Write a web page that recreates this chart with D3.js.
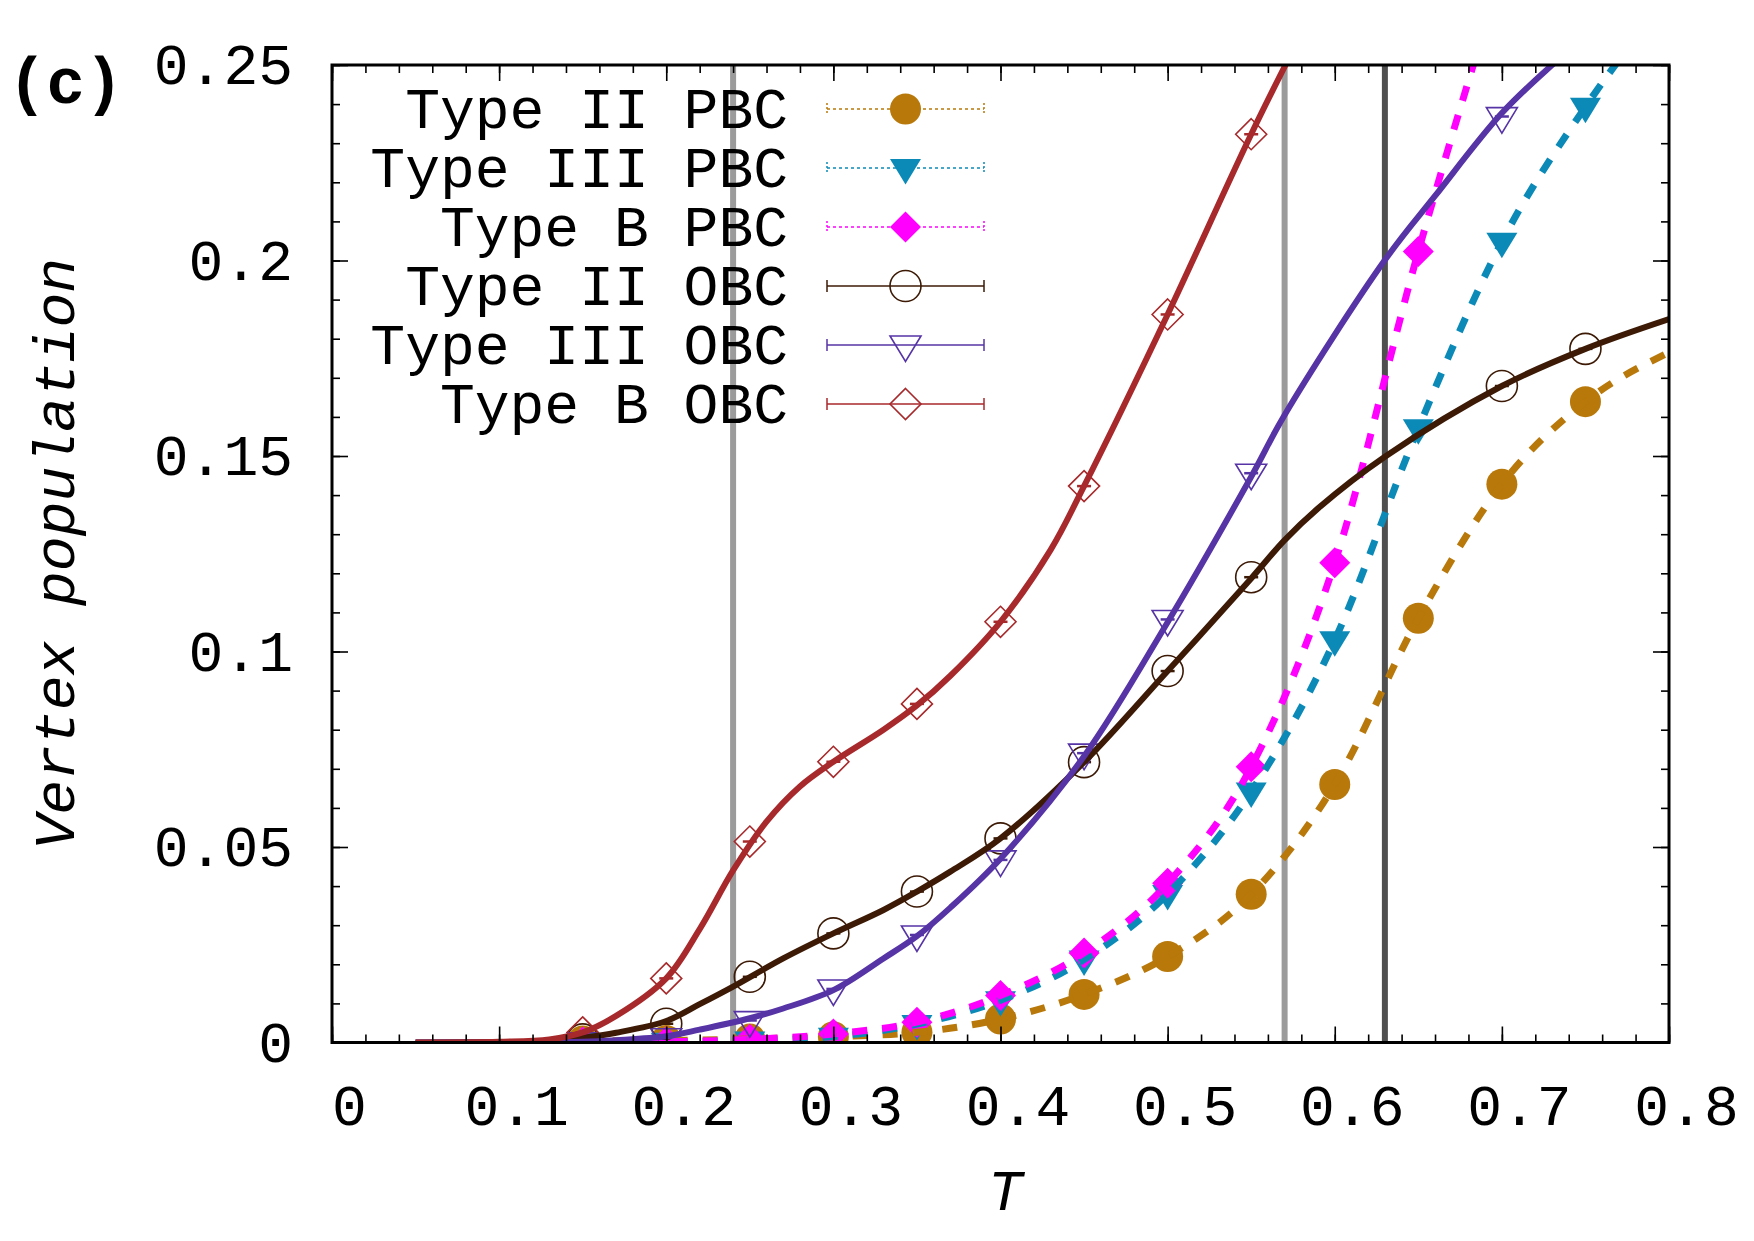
<!DOCTYPE html>
<html>
<head>
<meta charset="utf-8">
<script src="https://cdn.jsdelivr.net/npm/d3@7"></script>
<style>
    html, body { margin: 0; padding: 0; background: #fff; }
    svg { display: block; font-family: 'Liberation Mono', 'DejaVu Sans Mono', monospace; }
</style>
</head>
<body>
<svg id="chart" width="1754" height="1241"></svg>
<script>
// Temperatures of the simulation points
const temps = [0.15, 0.2, 0.25, 0.3, 0.35, 0.4, 0.45, 0.5, 0.55, 0.6, 0.65, 0.7, 0.75];

// Vertex populations (null = point not shown)
const typeIIPBC  = [0.0004, 0.0005, 0.0009, 0.0015, 0.0026, 0.006, 0.0123, 0.022, 0.0379, 0.066, 0.1085, 0.1428, 0.1639];
const typeIIIPBC = [0.0001, 0.0002, 0.0005, 0.0015, 0.0047, 0.0108, 0.0212, 0.038, 0.0642, 0.1029, 0.1571, 0.2048, 0.2393];
const typeBPBC   = [0.0001, 0.0002, 0.0008, 0.0022, 0.0052, 0.012, 0.0229, 0.0407, 0.0705, 0.1227, 0.2023, null, null];
const typeIIOBC  = [0.0008, 0.0048, 0.0168, 0.0279, 0.0386, 0.0522, 0.0717, 0.095, 0.119, null, null, 0.1679, 0.1774];
const typeIIIOBC = [0.0002, 0.0012, 0.0056, 0.0137, 0.0275, 0.0467, 0.074, 0.1082, 0.1456, null, null, 0.2368, null];
const typeBOBC   = [0.0026, 0.0164, 0.0514, 0.0718, 0.0866, 0.1076, 0.1423, 0.1862, 0.2323, null, null, null, null];

// Dashed PBC curves run through the points and on to these end points
const tailIIPBC  = [0.8, 0.1765];
const tailIIIPBC = [0.78, 0.257];
const tailBPBC   = [0.69, 0.26];

// Smooth OBC curves (T, value)
const curveTII  = [0.05, 0.1, 0.13, 0.15, 0.17, 0.2, 0.22, 0.24, 0.27, 0.3, 0.33, 0.35, 0.37, 0.4, 0.45, 0.5, 0.55, 0.57, 0.59, 0.63, 0.7, 0.75, 0.8];
const curveII   = [0, 0.0001, 0.0003, 0.0012, 0.0025, 0.0055, 0.0098, 0.0143, 0.0215, 0.0279, 0.0339, 0.0386, 0.0437, 0.0522, 0.0717, 0.095, 0.1187, 0.1285, 0.1366, 0.1498, 0.1679, 0.1774, 0.185];
const curveTIII = [0.05, 0.1, 0.15, 0.17, 0.2, 0.22, 0.25, 0.27, 0.3, 0.33, 0.35, 0.37, 0.4, 0.45, 0.5, 0.55, 0.57, 0.63, 0.66, 0.7, 0.73, 0.76];
const curveIII  = [0, 0, 0.0002, 0.0006, 0.0016, 0.0033, 0.0062, 0.0087, 0.0134, 0.0215, 0.0272, 0.0345, 0.047, 0.0732, 0.1075, 0.1447, 0.1605, 0.2001, 0.2165, 0.2377, 0.25, 0.261];
const curveTB   = [0.05, 0.1, 0.13, 0.15, 0.17, 0.2, 0.22, 0.24, 0.26, 0.28, 0.3, 0.33, 0.35, 0.37, 0.4, 0.43, 0.45, 0.5, 0.55, 0.58];
const curveB    = [0, 0.0002, 0.0008, 0.0026, 0.0068, 0.0164, 0.029, 0.0440, 0.0565, 0.0655, 0.0718, 0.0800, 0.0862, 0.0938, 0.1076, 0.126, 0.1423, 0.1862, 0.2323, 0.258];

// Vertical reference lines
const vLines = [0.24, 0.57, 0.63];

// Axis ticks and labels
const xTicks = [0, 0.1, 0.2, 0.3, 0.4, 0.5, 0.6, 0.7, 0.8];
const xTickLabels = ['0', '0.1', '0.2', '0.3', '0.4', '0.5', '0.6', '0.7', '0.8'];
const yTicks = [0, 0.05, 0.1, 0.15, 0.2, 0.25];
const yTickLabels = ['0', '0.05', '0.1', '0.15', '0.2', '0.25'];

const legendNames = ['Type II PBC', 'Type III PBC', 'Type B PBC', 'Type II OBC', 'Type III OBC', 'Type B OBC'];

const margin = {top: 65, right: 85, bottom: 198.5, left: 332};
const width = 1754 - margin.left - margin.right;
const height = 1241 - margin.top - margin.bottom;

const svg = d3.select('#chart');
const g = svg.append('g')
    .attr('transform', `translate(${margin.left},${margin.top})`);

const x = d3.scaleLinear().domain([0, 0.8]).range([0, width]);
const y = d3.scaleLinear().domain([0, 0.25]).range([height, 0]);

g.append('clipPath').attr('id', 'plot-clip')
    .append('rect').attr('width', width).attr('height', height);

// Series table built from the arrays above
const series = [
    {name: legendNames[0], vals: typeIIPBC,  tail: tailIIPBC,  color: '#b8780a', marker: 'circle',   filled: true},
    {name: legendNames[1], vals: typeIIIPBC, tail: tailIIIPBC, color: '#0b8ab8', marker: 'triangle', filled: true},
    {name: legendNames[2], vals: typeBPBC,   tail: tailBPBC,   color: '#ff00ff', marker: 'diamond',  filled: true},
    {name: legendNames[3], vals: typeIIOBC,  curveT: curveTII,  curve: curveII,  color: '#3c1a06', marker: 'circle',   filled: false},
    {name: legendNames[4], vals: typeIIIOBC, curveT: curveTIII, curve: curveIII, color: '#5634a6', marker: 'triangle', filled: false},
    {name: legendNames[5], vals: typeBOBC,   curveT: curveTB,   curve: curveB,   color: '#a8292b', marker: 'diamond',  filled: false}
];

function markerPath(type, cx, cy) {
    const p = d3.path();
    if (type === 'circle') {
        p.moveTo(cx + 15.5, cy);
        p.arc(cx, cy, 15.5, 0, 2 * Math.PI);
    } else if (type === 'triangle') {
        p.moveTo(cx - 15.5, cy - 9);
        p.lineTo(cx + 15.5, cy - 9);
        p.lineTo(cx, cy + 16.5);
        p.closePath();
    } else {
        p.moveTo(cx, cy - 15.5);
        p.lineTo(cx + 15.5, cy);
        p.lineTo(cx, cy + 15.5);
        p.lineTo(cx - 15.5, cy);
        p.closePath();
    }
    return p.toString();
}

// Vertical lines
g.selectAll('.vline')
    .data(vLines)
    .enter()
    .append('line')
    .attr('class', 'vline')
    .attr('x1', d => x(d))
    .attr('x2', d => x(d))
    .attr('y1', 0)
    .attr('y2', height)
    .attr('stroke', (d, i) => i === 2 ? '#4f4f4f' : '#9b9b9b')
    .attr('stroke-width', 6);

// Markers
const markLayer = g.append('g').attr('clip-path', 'url(#plot-clip)');
series.forEach(s => {
    const pts = temps.map((t, i) => ({t, v: s.vals[i]})).filter(d => d.v !== null);
    markLayer.selectAll(null)
        .data(pts)
        .enter()
        .append('path')
        .attr('d', d => markerPath(s.marker, x(d.t), y(d.v)))
        .attr('fill', s.filled ? s.color : 'none')
        .attr('stroke', s.color)
        .attr('stroke-width', s.filled ? 0 : 1.6);
    if (!s.filled) {
        // tiny error bar caps
        markLayer.selectAll(null)
            .data(pts)
            .enter()
            .append('line')
            .attr('x1', d => x(d.t) - 7)
            .attr('x2', d => x(d.t) + 7)
            .attr('y1', d => y(d.v))
            .attr('y2', d => y(d.v))
            .attr('stroke', s.color)
            .attr('stroke-width', 2.5);
    }
});

// Curves
const dashedLine = d3.line()
    .x(d => x(d[0]))
    .y(d => y(d[1]))
    .curve(d3.curveMonotoneX);
const smoothLine = d3.line()
    .x(d => x(d[0]))
    .y(d => y(d[1]))
    .curve(d3.curveCatmullRom.alpha(0.5));

const curveLayer = g.append('g').attr('clip-path', 'url(#plot-clip)');
series.slice(0, 3).forEach(s => {
    const pts = temps.map((t, i) => [t, s.vals[i]]).filter(d => d[1] !== null);
    pts.push(s.tail);
    curveLayer.append('path')
        .attr('d', dashedLine(pts))
        .attr('fill', 'none')
        .attr('stroke', s.color)
        .attr('stroke-width', 7)
        .attr('stroke-dasharray', '15,15');
});
series.slice(3).forEach(s => {
    const pts = s.curveT.map((t, i) => [t, s.curve[i]]);
    curveLayer.append('path')
        .attr('d', smoothLine(pts))
        .attr('fill', 'none')
        .attr('stroke', s.color)
        .attr('stroke-width', 6);
});

// Axes: major ticks with labels, minor ticks, mirrored on top/right
const xMinor = d3.range(0, 41).map(i => i * 0.02);
const yMinor = d3.range(0, 26).map(i => i * 0.01);

function styleAxis(sel) {
    sel.attr('font-size', null).attr('font-family', null);
    sel.select('.domain').remove();
    sel.selectAll('.tick line').attr('stroke', '#000').attr('stroke-width', 1.6);
    sel.selectAll('.tick text').attr('fill', '#000').style('font-size', '58px');
}

g.append('g')
    .attr('transform', `translate(0,${height})`)
    .call(d3.axisBottom(x).tickValues(xMinor).tickFormat('').tickSize(-8))
    .call(styleAxis);
g.append('g')
    .attr('transform', `translate(0,${height})`)
    .call(d3.axisBottom(x).tickValues(xTicks).tickFormat((d, i) => xTickLabels[i]).tickSize(-16).tickPadding(41))
    .call(styleAxis)
    .selectAll('.tick text').attr('dx', 17);
g.append('g')
    .call(d3.axisTop(x).tickValues(xMinor).tickFormat('').tickSize(-8))
    .call(styleAxis);
g.append('g')
    .call(d3.axisTop(x).tickValues(xTicks).tickFormat('').tickSize(-16))
    .call(styleAxis);

g.append('g')
    .call(d3.axisLeft(y).tickValues(yMinor).tickFormat('').tickSize(-8))
    .call(styleAxis);
g.append('g')
    .call(d3.axisLeft(y).tickValues(yTicks).tickFormat((d, i) => yTickLabels[i]).tickSize(-16).tickPadding(39))
    .call(styleAxis);
g.append('g')
    .attr('transform', `translate(${width},0)`)
    .call(d3.axisRight(y).tickValues(yMinor).tickFormat('').tickSize(-8))
    .call(styleAxis);
g.append('g')
    .attr('transform', `translate(${width},0)`)
    .call(d3.axisRight(y).tickValues(yTicks).tickFormat('').tickSize(-16))
    .call(styleAxis);

// Frame
g.append('rect')
    .attr('width', width)
    .attr('height', height)
    .attr('fill', 'none')
    .attr('stroke', '#000')
    .attr('stroke-width', 3);

// Axis titles
svg.append('text')
    .attr('transform', `translate(74,${margin.top + height / 2}) rotate(-90)`)
    .attr('text-anchor', 'middle')
    .style('font-size', '58px')
    .style('font-style', 'italic')
    .text('Vertex population');

svg.append('text')
    .attr('x', margin.left + width / 2 + 5)
    .attr('y', 1210)
    .attr('text-anchor', 'middle')
    .style('font-size', '58px')
    .style('font-style', 'italic')
    .text('T');

svg.append('text')
    .attr('x', 8)
    .attr('y', 103)
    .style('font-size', '64px')
    .style('font-weight', 'bold')
    .text('(c)');

// Legend
const legend = svg.append('g');
series.forEach((s, i) => {
    const ry = 109 + i * 59;
    const row = legend.append('g');
    row.append('text')
        .attr('x', 788)
        .attr('y', ry)
        .attr('dy', '0.33em')
        .attr('text-anchor', 'end')
        .style('font-size', '58px')
        .text(s.name);
    const dash = s.filled ? '3,3' : null;
    row.append('line')
        .attr('x1', 827).attr('x2', 984).attr('y1', ry).attr('y2', ry)
        .attr('stroke', s.color).attr('stroke-width', 1.5)
        .attr('stroke-dasharray', dash);
    [827, 984].forEach(cx => {
        row.append('line')
            .attr('x1', cx).attr('x2', cx).attr('y1', ry - 6).attr('y2', ry + 6)
            .attr('stroke', s.color).attr('stroke-width', 1.5)
            .attr('stroke-dasharray', s.filled ? '2,2' : null);
    });
    row.append('path')
        .attr('d', markerPath(s.marker, 905.5, ry))
        .attr('fill', s.filled ? s.color : 'none')
        .attr('stroke', s.color)
        .attr('stroke-width', s.filled ? 0 : 1.6);
});
</script>
</body>
</html>
